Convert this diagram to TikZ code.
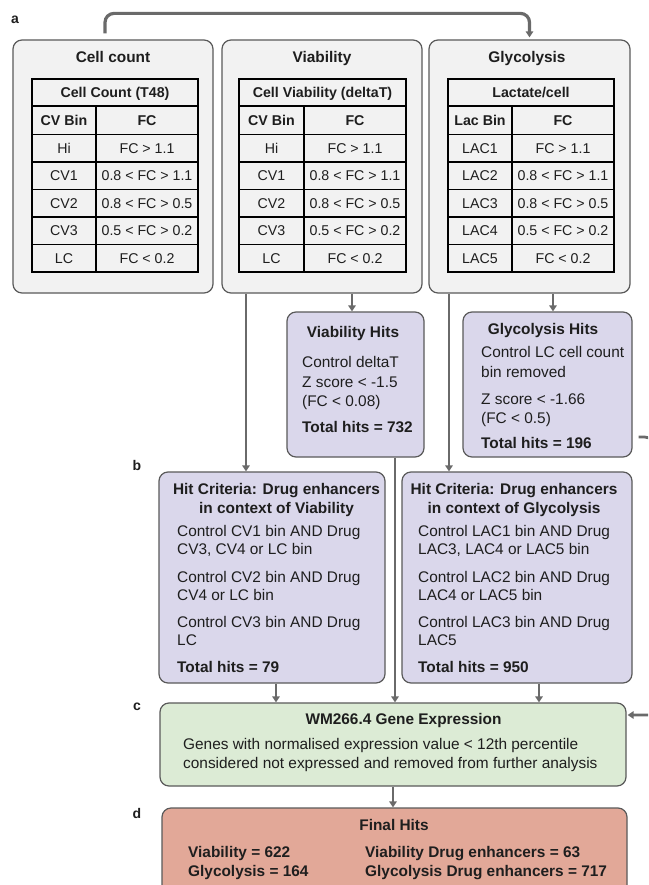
\documentclass[tikz,border=0pt]{standalone}
\usepackage{fontspec}
\setmainfont{Liberation Sans}
\usetikzlibrary{arrows.meta}

\definecolor{panelfill}{HTML}{F2F2F2}
\definecolor{boxline}{HTML}{5A5A5A}
\definecolor{hitfill}{HTML}{DAD7EB}
\definecolor{exprfill}{HTML}{DCEBD5}
\definecolor{finalfill}{HTML}{E2A898}
\definecolor{linkgray}{HTML}{6A6A6A}
\definecolor{ink}{HTML}{1E1E1E}

% bin table: prefix, left x, column split x, right x, title, bin header, bin/FC pairs
\newcommand\bintable[7]{%
  \draw[tabrule] (#2,79) rectangle (#4,272);
  \draw[tabrule] (#2,106) -- (#4,106);
  \draw[tabrule] (#3,106) -- (#3,272);
  \foreach \k in {1,...,5} {\draw[tabrule] (#2,{134.5+27.5*(\k-1)}) -- (#4,{134.5+27.5*(\k-1)});}
  \node[tabhead] (#1-title) at ({(#2+#4)/2},92.5) {#5};
  \node[tabhead] (#1-binhead) at ({(#2+#3)/2},120.5) {#6};
  \node[tabhead] (#1-fchead) at ({(#3+#4)/2},120.5) {FC};
  \foreach \b/\f [count=\i] in {#7} {
    \node[tabcell] (#1-bin\i) at ({(#2+#3)/2},{148.25+27.5*(\i-1)}) {\b};
    \node[tabcell] (#1-fc\i) at ({(#3+#4)/2},{148.25+27.5*(\i-1)}) {\f};
  }%
}

\begin{document}
\begin{tikzpicture}[x=1pt,y=-1pt,
  panel/.style={draw=boxline, line width=1.2pt, rounded corners=9pt, fill=panelfill, inner sep=0pt},
  hitbox/.style={panel, fill=hitfill},
  exprbox/.style={panel, fill=exprfill},
  finalbox/.style={panel, fill=finalfill},
  link/.style={draw=linkgray, line width=2.8pt, -{Triangle[length=6pt,width=7.5pt]}},
  shortlink/.style={link, line width=2.2pt},
  hd/.style={font=\fontsize{15.4}{18}\selectfont\bfseries, text=ink, inner sep=0pt, text height=11pt, text depth=0pt},
  txt/.style={font=\fontsize{15.4}{18}\selectfont, text=ink, inner sep=0pt, text height=11pt, text depth=0pt, anchor=west},
  txtb/.style={txt, font=\fontsize{15.4}{18}\selectfont\bfseries},
  tabcell/.style={font=\fontsize{14.2}{16}\selectfont, text=ink, inner sep=0pt, text height=10pt, text depth=0pt},
  tabhead/.style={tabcell, font=\fontsize{14.2}{16}\selectfont\bfseries},
  tabrule/.style={draw=black, line width=1.7pt},
  panellabel/.style={font=\fontsize{14}{16}\selectfont\bfseries, text=ink, inner sep=0pt, text height=10pt, text depth=0pt}]

\useasboundingbox (0,0) rectangle (648,885);
\fill[white] (0,0) rectangle (648,885);
\clip (0,0) rectangle (648,885);

% ---- panel letters
\node[panellabel] (la) at (15,19) {a};
\node[panellabel] (lb) at (137,465) {b};
\node[panellabel] (lc) at (137,705) {c};
\node[panellabel] (ld) at (137,813) {d};

% ---- a: screen read-outs
\node[panel, minimum width=200pt, minimum height=253pt] (cc) at (113,166.5) {};
\node[panel, minimum width=200pt, minimum height=253pt] (via) at (322,166.5) {};
\node[panel, minimum width=201pt, minimum height=253pt] (gly) at (529.5,166.5) {};

\node[hd] (cct) at (113,57) {Cell count};
\node[hd] (viat) at (322,57) {Viability};
\node[hd] (glyt) at (527,57) {Glycolysis};

\bintable{cct}{32}{96}{198}{Cell Count (T48)}{CV Bin}{Hi/FC > 1.1, CV1/0.8 < FC > 1.1, CV2/0.8 < FC > 0.5, CV3/0.5 < FC > 0.2, LC/FC < 0.2}
\bintable{vt}{239}{304}{406}{Cell Viability (deltaT)}{CV Bin}{Hi/FC > 1.1, CV1/0.8 < FC > 1.1, CV2/0.8 < FC > 0.5, CV3/0.5 < FC > 0.2, LC/FC < 0.2}
\bintable{gt}{448}{512}{614}{Lactate/cell}{Lac Bin}{LAC1/FC > 1.1, LAC2/0.8 < FC > 1.1, LAC3/0.8 < FC > 0.5, LAC4/0.5 < FC > 0.2, LAC5/FC < 0.2}

% ---- hit boxes
\node[hitbox, minimum width=137pt, minimum height=145pt] (vh) at (355.5,384.5) {};
\node[hd] (vht) at (353,332) {Viability Hits};
\node[txt] (vh1) at (302,362) {Control deltaT};
\node[txt] (vh2) at (302,382) {Z score < -1.5};
\node[txt] (vh3) at (302,401) {(FC < 0.08)};
\node[txtb] (vh4) at (302,427) {Total hits = 732};

\node[hitbox, minimum width=169pt, minimum height=145pt] (gh) at (547.5,384.5) {};
\node[hd] (ght) at (543,329) {Glycolysis Hits};
\node[txt] (gh1) at (481,352) {Control LC cell count};
\node[txt] (gh2) at (481,372) {bin removed};
\node[txt] (gh3) at (481,399) {Z score < -1.66};
\node[txt] (gh4) at (481,418) {(FC < 0.5)};
\node[txtb] (gh5) at (481,443) {Total hits = 196};

% ---- b: drug enhancer criteria
\node[hitbox, minimum width=226pt, minimum height=211pt] (hv) at (272,577.5) {};
\node[hd] (hvt1) at (276.5,489) {Hit Criteria: Drug enhancers};
\node[hd] (hvt2) at (276.5,508) {in context of Viability};
\node[txt] (hv1) at (177,531) {Control CV1 bin AND Drug};
\node[txt] (hv2) at (177,549) {CV3, CV4 or LC bin};
\node[txt] (hv3) at (177,577) {Control CV2 bin AND Drug};
\node[txt] (hv4) at (177,595) {CV4 or LC bin};
\node[txt] (hv5) at (177,622) {Control CV3 bin AND Drug};
\node[txt] (hv6) at (177,640) {LC};
\node[txtb] (hv7) at (177,667) {Total hits = 79};

\node[hitbox, minimum width=230pt, minimum height=211pt] (hg) at (517,577.5) {};
\node[hd] (hgt1) at (514,489) {Hit Criteria: Drug enhancers};
\node[hd] (hgt2) at (514,508) {in context of Glycolysis};
\node[txt] (hg1) at (418,531) {Control LAC1 bin AND Drug};
\node[txt] (hg2) at (418,549) {LAC3, LAC4 or LAC5 bin};
\node[txt] (hg3) at (418,577) {Control LAC2 bin AND Drug};
\node[txt] (hg4) at (418,595) {LAC4 or LAC5 bin};
\node[txt] (hg5) at (418,622) {Control LAC3 bin AND Drug};
\node[txt] (hg6) at (418,640) {LAC5};
\node[txtb] (hg7) at (418,667) {Total hits = 950};

% ---- c: expression filter
\node[exprbox, minimum width=466pt, minimum height=83pt] (ge) at (393,744.5) {};
\node[hd] (get) at (403.5,719) {WM266.4 Gene Expression};
\node[txt] (ge1) at (183,744) {Genes with normalised expression value < 12th percentile};
\node[txt] (ge2) at (183,763) {considered not expressed and removed from further analysis};

% ---- d: final hits
\node[finalbox, minimum width=465pt, minimum height=97pt] (fh) at (394.5,856.5) {};
\node[hd] (fht) at (394,825) {Final Hits};
\node[txtb] (fh1) at (188,852) {Viability = 622};
\node[txtb] (fh2) at (188,871) {Glycolysis = 164};
\node[txtb] (fh3) at (365,852) {Viability Drug enhancers = 63};
\node[txtb] (fh4) at (365,871) {Glycolysis Drug enhancers = 717};

% ---- connectors
\draw[link, line width=3.2pt, rounded corners=9pt]
  ([xshift=-8pt,yshift=6pt]cc.north) -- ++(0,-20) -| ([yshift=2pt]gly.north);
\draw[link] ([xshift=-76pt]via.south) -- ([xshift=-76pt]via.south |- hv.north);
\draw[shortlink] ([xshift=30pt]via.south) -- ([xshift=30pt]via.south |- vh.north);
\draw[link] ([xshift=-80.5pt]gly.south) -- ([xshift=-80.5pt]gly.south |- hg.north);
\draw[shortlink] ([xshift=23.5pt]gly.south) -- ([xshift=23.5pt]gly.south |- gh.north);
\draw[link] ([xshift=39.5pt]vh.south) -- ([xshift=39.5pt]vh.south |- ge.north);
\draw[shortlink] ([xshift=4pt]hv.south) -- ([xshift=4pt]hv.south |- ge.north);
\draw[shortlink] ([xshift=22pt]hg.south) -- ([xshift=22pt]hg.south |- ge.north);
\draw[shortlink] (ge.south) -- (ge.south |- fh.north);
\draw[link, rounded corners=10pt]
  ([xshift=6pt,yshift=-52.5pt]gh.east) -- ++(16,0) -- ++(10,278) -- ([xshift=1pt,yshift=29.5pt]ge.east);
\end{tikzpicture}
\end{document}
